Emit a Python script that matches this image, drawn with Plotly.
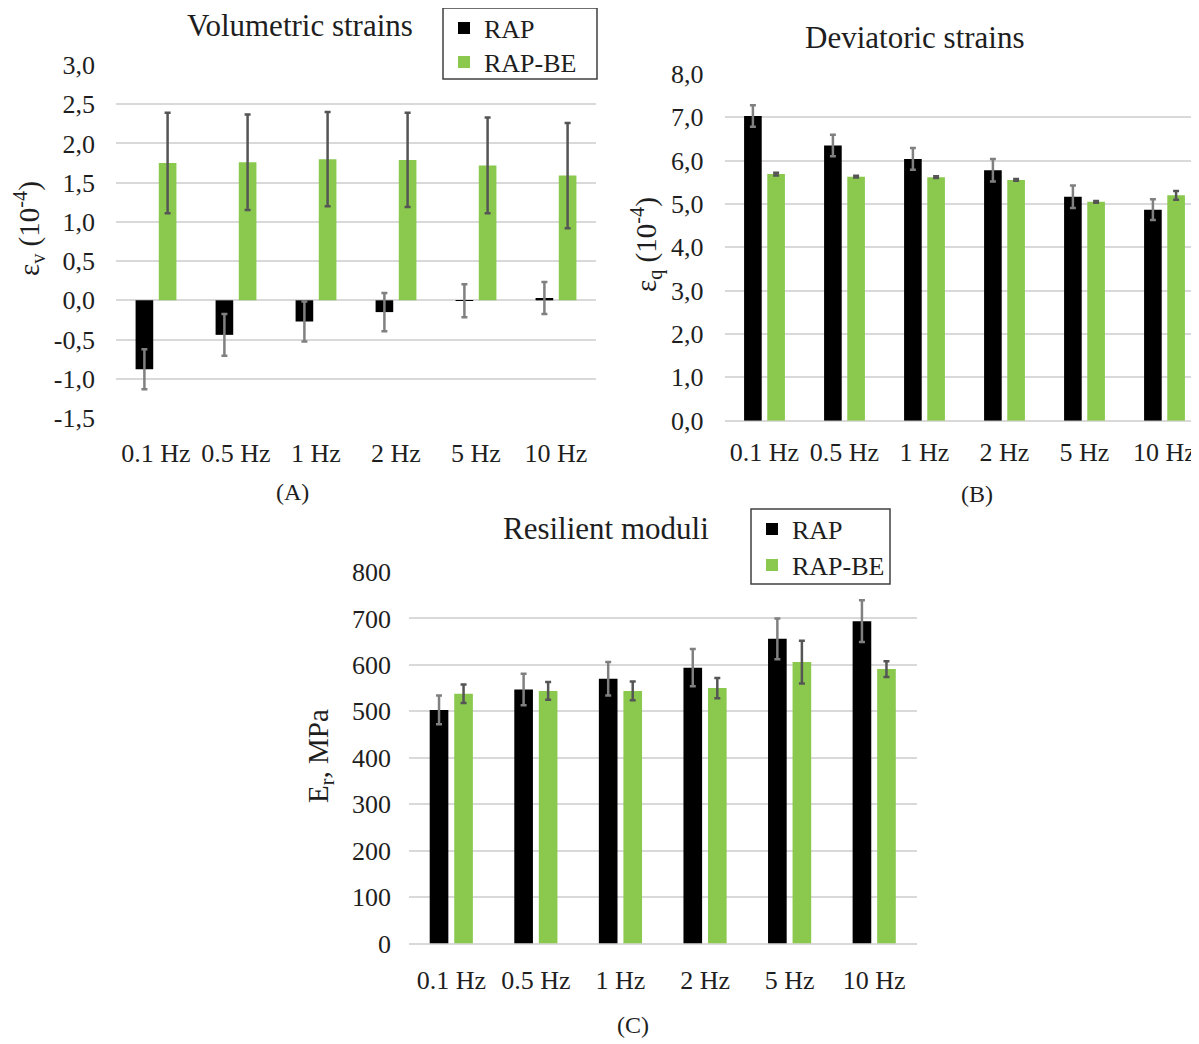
import plotly.graph_objects as go

# ---------------- data ----------------
categories = ["0.1 Hz", "0.5 Hz", "1 Hz", "2 Hz", "5 Hz", "10 Hz"]

# (A) Volumetric strains (10^-4)
vol_rap = [-0.88, -0.44, -0.27, -0.15, -0.005, 0.03]
vol_rap_err = [0.255, 0.265, 0.255, 0.245, 0.21, 0.205]
vol_be = [1.75, 1.76, 1.80, 1.79, 1.72, 1.59]
vol_be_err = [0.64, 0.61, 0.60, 0.60, 0.61, 0.67]

# (B) Deviatoric strains (10^-4)
dev_rap = [7.03, 6.35, 6.04, 5.78, 5.17, 4.87]
dev_rap_err = [0.25, 0.25, 0.25, 0.26, 0.26, 0.24]
dev_be = [5.69, 5.63, 5.62, 5.555, 5.05, 5.20]
dev_be_err = [0.03, 0.02, 0.02, 0.02, 0.02, 0.10]

# (C) Resilient moduli (MPa)
mr_rap = [503, 547, 570, 594, 656, 694]
mr_rap_err = [31, 34, 36, 40, 44, 45]
mr_be = [538, 544, 544, 550, 606, 591]
mr_be_err = [20, 19, 20, 22, 46, 17]

# tick labels
vol_tickvals = [-1.5, -1.0, -0.5, 0.0, 0.5, 1.0, 1.5, 2.0, 2.5, 3.0]
vol_ticktext = ["-1,5", "-1,0", "-0,5", "0,0", "0,5", "1,0", "1,5", "2,0", "2,5", "3,0"]
dev_tickvals = [0, 1, 2, 3, 4, 5, 6, 7, 8]
dev_ticktext = ["0,0", "1,0", "2,0", "3,0", "4,0", "5,0", "6,0", "7,0", "8,0"]
mr_tickvals = [0, 100, 200, 300, 400, 500, 600, 700, 800]
mr_ticktext = ["0", "100", "200", "300", "400", "500", "600", "700", "800"]

series_names = ["RAP", "RAP-BE"]

# ---------------- style ----------------
W, H = 1199, 1044
S = 8  # page body margin offset
FONT = "Liberation Serif"
TXT = "#1e1e1e"
BLACK = "#000000"
GREEN = "#8BC84E"
ERR_RAP = "#808080"
ERR_BE = "#555555"
GRID = "#d9d9d9"


def px_x(p):
    return (p - S) / W


def px_y(p):
    return 1 - (p - S) / H


fig = go.Figure()


def add_pair(xa, ya, rap, rap_err, be, be_err, leg_rap, leg_be, show):
    fig.add_trace(go.Bar(
        x=categories, y=rap, name=series_names[0], xaxis=xa, yaxis=ya,
        marker=dict(color=BLACK, line=dict(width=0)),
        error_y=dict(type="data", array=rap_err, color=ERR_RAP, thickness=2.5, width=3),
        legend=leg_rap, showlegend=show,
    ))
    fig.add_trace(go.Bar(
        x=categories, y=be, name=series_names[1], xaxis=xa, yaxis=ya,
        marker=dict(color=GREEN, line=dict(width=0)),
        error_y=dict(type="data", array=be_err, color=ERR_BE, thickness=2.5, width=3),
        legend=leg_be, showlegend=show,
    ))


add_pair("x", "y", vol_rap, vol_rap_err, vol_be, vol_be_err, "legend", "legend3", True)
add_pair("x2", "y2", dev_rap, dev_rap_err, dev_be, dev_be_err, "legend", "legend3", False)
add_pair("x3", "y3", mr_rap, mr_rap_err, mr_be, mr_be_err, "legend2", "legend4", True)

tickfont = dict(family=FONT, size=26, color=TXT)


def xaxis(domain, anchor, rng, standoff):
    return dict(domain=domain, anchor=anchor, type="category", range=rng,
                showgrid=False, showline=False, zeroline=False, ticks="",
                tickangle=0, tickfont=tickfont, ticklabelstandoff=standoff,
                automargin=False, fixedrange=True)


def yaxis(domain, anchor, rng, tv, tt, standoff):
    return dict(domain=domain, anchor=anchor, range=rng, tickvals=tv, ticktext=tt,
                showgrid=True, gridcolor=GRID, gridwidth=1.5,
                zeroline=True, zerolinecolor=GRID, zerolinewidth=1.5,
                showline=False, ticks="", tickfont=tickfont,
                ticklabelstandoff=standoff, automargin=False, fixedrange=True)


def leg(xp, yp):
    return dict(x=px_x(xp), y=px_y(yp), xanchor="left", yanchor="middle",
                bgcolor="rgba(0,0,0,0)", borderwidth=0,
                font=dict(family=FONT, size=26, color=TXT))


fig.update_layout(
    width=W, height=H,
    margin=dict(l=0, r=0, t=0, b=0, autoexpand=False),
    paper_bgcolor="white", plot_bgcolor="white",
    barmode="group", bargap=0.42, bargroupgap=0.24,
    font=dict(family=FONT, color=TXT),
    xaxis=xaxis([px_x(116), px_x(596)], "y", [-0.5, 5.5], 17),
    yaxis=yaxis([px_y(418), px_y(65)], "x", [-1.5, 3.0], vol_tickvals, vol_ticktext, 20),
    xaxis2=xaxis([px_x(724.5), min(1.0, px_x(1204.5))], "y2", [-0.5, 5.5], 13),
    yaxis2=yaxis([px_y(420.7), px_y(74)], "x2", [0, 8], dev_tickvals, dev_ticktext, 20),
    xaxis3=xaxis([px_x(409), px_x(916.5)], "y3", [-0.5, 5.5], 18),
    yaxis3=yaxis([px_y(943.5), px_y(572)], "x3", [0, 800], mr_tickvals, mr_ticktext, 17),
    legend=leg(444, 28),
    legend3=leg(444, 62),
    legend2=leg(752, 529),
    legend4=leg(752, 565),
    showlegend=True,
)

# legend frames
for (x0, y0, x1, y1) in [(443, 8, 597, 79), (751, 509, 890, 584)]:
    fig.add_shape(type="rect", xref="paper", yref="paper",
                  x0=px_x(x0), x1=px_x(x1), y0=px_y(y1), y1=px_y(y0),
                  line=dict(color="#404040", width=1.5), fillcolor="rgba(0,0,0,0)",
                  layer="above")

annots = [
    dict(text="Volumetric strains", x=300, y=25, size=31, angle=0),
    dict(text="Deviatoric strains", x=915, y=37, size=31, angle=0),
    dict(text="Resilient moduli", x=606, y=528, size=31, angle=0),
    dict(text="ε<sub>v</sub> (10<sup>-4</sup>)", x=29, y=228, size=29, angle=-90),
    dict(text="ε<sub>q</sub> (10<sup>-4</sup>)", x=646, y=245, size=29, angle=-90),
    dict(text="E<sub>r</sub>, MPa", x=320, y=756, size=29, angle=-90),
    dict(text="(A)", x=292, y=492, size=24, angle=0),
    dict(text="(B)", x=977, y=494, size=24, angle=0),
    dict(text="(C)", x=633, y=1025, size=24, angle=0),
]
for a in annots:
    fig.add_annotation(text=a["text"], x=px_x(a["x"]), y=px_y(a["y"]),
                       xref="paper", yref="paper",
                       xanchor="center", yanchor="middle", showarrow=False,
                       textangle=a["angle"],
                       font=dict(family=FONT, size=a["size"], color=TXT))

fig.write_html("out.html")
